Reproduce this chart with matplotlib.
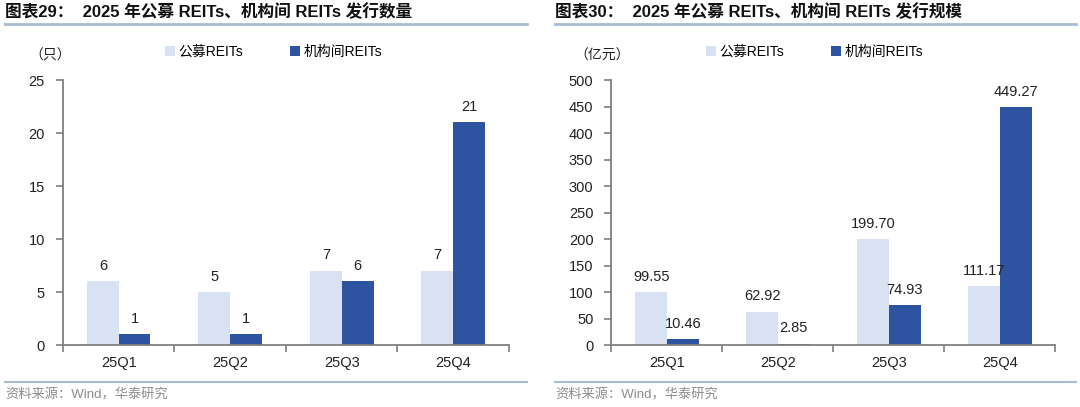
import matplotlib.pyplot as plt
import numpy as np

plt.rcParams['font.family'] = ['Liberation Sans', 'Noto Sans CJK SC', 'DejaVu Sans']

quarters = ['25Q1', '25Q2', '25Q3', '25Q4']
series_names = ['公募REITs', '机构间REITs']

# 发行数量（只）
count_public = [6, 5, 7, 7]
count_inst = [1, 1, 6, 21]

# 发行规模（亿元）
scale_public = [99.55, 62.92, 199.70, 111.17]
scale_inst = [10.46, 2.85, 74.93, 449.27]

titles = ['图表29：  2025 年公募 REITs、机构间 REITs 发行数量',
          '图表30：  2025 年公募 REITs、机构间 REITs 发行规模']
units = ['（只）', '（亿元）']

light = '#D9E2F3'
dark = '#2E54A1'
axis_gray = '#7F7F7F'
rule_color = '#A9BBD3'

fig = plt.figure(figsize=(10.8, 4.07), dpi=100)

panels = [
    dict(rect=[0.0583, 0.1523, 0.413, 0.6511], pub=count_public, inst=count_inst,
         ylim=25, step=5, fmt='{:.0f}', x0=5, x1=527, leg=165),
    dict(rect=[0.5662, 0.1523, 0.411, 0.6511], pub=scale_public, inst=scale_inst,
         ylim=500, step=50, fmt='{:.2f}', x0=555, x1=1076, leg=706),
]

x = np.arange(len(quarters))
w = 0.285

for i, p in enumerate(panels):
    ax = fig.add_axes(p['rect'])
    b1 = ax.bar(x - w / 2, p['pub'], w, color=light, label=series_names[0])
    b2 = ax.bar(x + w / 2, p['inst'], w, color=dark, label=series_names[1])
    for bars, vals in ((b1, p['pub']), (b2, p['inst'])):
        for b, v in zip(bars, vals):
            ax.annotate(p['fmt'].format(v), (b.get_x() + b.get_width() / 2, v),
                        xytext=(0, 6), textcoords='offset points',
                        ha='center', va='bottom', fontsize=10.5, color='#222222')

    ax.set_xlim(-0.5, len(quarters) - 0.5)
    ax.set_ylim(0, p['ylim'])
    ax.set_yticks(np.arange(0, p['ylim'] + 1, p['step']))
    ax.set_xticks(x)
    ax.set_xticklabels(quarters)
    ax.set_xticks(np.arange(-0.5, len(quarters)), minor=True)
    ax.tick_params(axis='x', which='major', length=0, pad=8, labelsize=10.5, labelcolor='#222222')
    ax.tick_params(axis='x', which='minor', length=5, width=1.2, color=axis_gray, direction='out')
    ax.tick_params(axis='y', length=5, width=1.2, color=axis_gray, direction='out', pad=8,
                   labelsize=10.5, labelcolor='#222222')
    for s in ('top', 'right'):
        ax.spines[s].set_visible(False)
    for s in ('left', 'bottom'):
        ax.spines[s].set_color(axis_gray)
        ax.spines[s].set_linewidth(1.3)

    # legend above plot
    ax.legend(loc='center left', bbox_to_anchor=(p['leg'] / 1080, 1 - 52 / 407),
              bbox_transform=fig.transFigure,
              ncol=2, frameon=False, fontsize=10, handlelength=0.7, handleheight=0.7,
              handletextpad=0.25, columnspacing=3.4, borderpad=0, borderaxespad=0)

    # unit label
    ux = 50 if i == 0 else 602
    fig.text(ux / 1080, 1 - 56 / 407, units[i], ha='center', va='center', fontsize=10, color='#222222')

    # title and rules
    fig.text(p['x0'] / 1080, 1 - 12 / 407, titles[i], ha='left', va='center',
             fontsize=12, fontweight='bold', color='#111111')
    fig.add_artist(plt.Line2D([p['x0'] / 1080, p['x1'] / 1080], [1 - 24 / 407] * 2,
                              color=rule_color, lw=2))
    fig.add_artist(plt.Line2D([p['x0'] / 1080, p['x1'] / 1080], [1 - 382 / 407] * 2,
                              color=rule_color, lw=1.5))
    fig.text(p['x0'] / 1080, 1 - 395 / 407, '资料来源：Wind，华泰研究', ha='left', va='center',
             fontsize=9.5, color='#8C8C8C')

fig.savefig('out.png', dpi=100)
